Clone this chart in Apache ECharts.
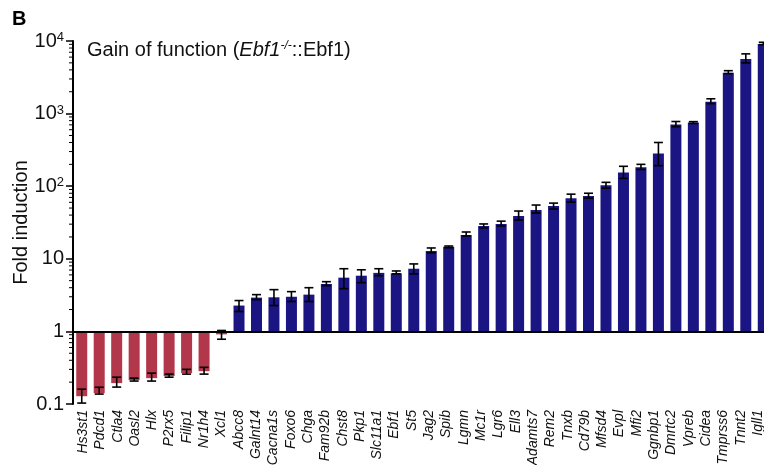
<!DOCTYPE html>
<html>
<head>
<meta charset="utf-8">
<script src="https://cdn.jsdelivr.net/npm/echarts@6/dist/echarts.min.js"></script>
<style>
  html, body { margin: 0; padding: 0; background: #fff; }
  #chart { width: 764px; height: 465px; }
</style>
</head>
<body>
<div id="chart"></div>
<script>
// Genes, ordered by fold induction
const genes = ['Hs3st1','Pdcd1','Ctla4','Oasl2','Hlx','P2rx5','Filip1','Nr1h4','Xcl1',
  'Abcc8','Galnt14','Cacna1s','Foxo6','Chga','Fam92b','Chst8','Pkp1','Slc11a1','Ebf1',
  'St5','Jag2','Spib','Lgmn','Mc1r','Lgr6','Ell3','Adamts7','Rem2','Tnxb','Cd79b',
  'Mfsd4','Evpl','Mfi2','Ggnbp1','Dmrtc2','Vpreb','Cidea','Tmprss6','Tnnt2','Igll1'];

// Mean fold induction
const foldInduction = [0.128, 0.141, 0.194, 0.213, 0.227, 0.242, 0.266, 0.283, 0.91,
  2.27, 2.92, 2.95, 3.0, 3.21, 4.5, 5.5, 5.85, 6.4, 6.3,
  7.3, 12.8, 14.6, 21.3, 28.3, 30.2, 38.8, 46.9, 53.2, 68.5, 73,
  103, 155, 182, 283, 706, 753, 1460, 3650, 5670, 9100];

// Error bar ends (lower / upper)
const errLow = [0.103, 0.137, 0.171, 0.207, 0.207, 0.234, 0.258, 0.258, 0.78,
  1.88, 2.74, 2.27, 2.58, 2.58, 4.27, 3.88, 4.69, 5.85, 6.2,
  6.2, 12.1, 14.2, 20.6, 26.6, 28.3, 34.2, 42.8, 48.4, 60.3, 68.5,
  94, 128, 170, 192, 660, 730, 1370, 3550, 5000, 8900];
const errHigh = [0.16, 0.17, 0.234, 0.227, 0.266, 0.258, 0.30, 0.32, 1.03,
  2.66, 3.21, 3.76, 3.53, 4.0, 4.84, 7.3, 7.06, 7.3, 6.8,
  8.5, 14.1, 15.0, 23.4, 30.2, 33.0, 45.5, 55, 58.5, 77.7, 80,
  113, 188, 200, 400, 778, 775, 1600, 3900, 6650, 9600];

// Log-axis ticks
const yTicks = [0.1, 1, 10, 100, 1000, 10000];

const FONT = 'Liberation Sans, Arial, Helvetica, sans-serif';
const BLUE = '#1b1583';
const RED = '#b3374b';

// minor tick positions 2..9 within each decade
const minorTicks = [];
for (let d = 0; d < yTicks.length - 1; d++) {
  for (let m = 2; m <= 9; m++) minorTicks.push([0, yTicks[d] * m]);
}

const chart = echarts.init(document.getElementById('chart'), null, { renderer: 'canvas' });

chart.setOption({
  animation: false,
  backgroundColor: '#fff',
  title: [
    {
      text: 'B', left: 7, top: 4,
      textStyle: { fontFamily: FONT, fontSize: 20, fontWeight: 'bold', color: '#000' }
    },
    {
      text: '{n|Gain of function (}{i|Ebf1}{s|-/-}{n|::Ebf1)}',
      left: 82, top: 35,
      textStyle: {
        fontFamily: FONT, color: '#000', fontWeight: 'normal',
        rich: {
          n: { fontFamily: FONT, fontSize: 20, fontWeight: 'normal', color: '#111' },
          i: { fontFamily: FONT, fontSize: 20, fontWeight: 'normal', fontStyle: 'italic', color: '#111' },
          s: { fontFamily: FONT, fontSize: 12, fontWeight: 'normal', fontStyle: 'italic', verticalAlign: 'top', color: '#111' }
        }
      }
    }
  ],
  grid: [
    // plotting area (extends a little past the right edge)
    { left: 73, right: -8, top: 41, bottom: 61, containLabel: false, outerBoundsMode: 'none' },
    // gene-name row, kept inside the page
    { left: 74.4, right: -2.7, top: 41, bottom: 61, containLabel: false, outerBoundsMode: 'none' }
  ],
  xAxis: [
    {
      gridIndex: 0,
      type: 'category',
      data: genes,
      axisLine: { show: false },
      axisTick: { show: false },
      axisLabel: { show: false }
    },
    {
      gridIndex: 1,
      type: 'category',
      data: genes,
      axisLine: { show: false },
      axisTick: { show: false },
      axisLabel: {
        rotate: 90, margin: 6, interval: 0,
        fontFamily: FONT, fontSize: 14, fontStyle: 'italic', color: '#111'
      }
    }
  ],
  yAxis: [
    {
      gridIndex: 0,
      type: 'log',
      logBase: 10,
      min: 0.1,
      max: 10000,
      interval: 1,
      name: 'Fold induction',
      nameLocation: 'middle',
      nameGap: 42,
      nameMoveOverlap: false,
      nameTextStyle: { fontFamily: FONT, fontSize: 20, color: '#111' },
      axisLine: { show: true, lineStyle: { color: '#000', width: 2 } },
      axisTick: { show: true, length: 7, lineStyle: { color: '#000', width: 1.5 } },
      splitLine: { show: false },
      axisLabel: {
        margin: 9,
        fontFamily: FONT, fontSize: 20, color: '#111',
        formatter: function (v) {
          const e = Math.round(Math.log10(v));
          if (e === -1) return '{b|0.1}';
          if (e === 0) return '{b|1}';
          if (e === 1) return '{b|10}';
          return '{b|10}{s|' + e + '}';
        },
        rich: {
          b: { fontFamily: FONT, fontSize: 20, color: '#111' },
          s: { fontFamily: FONT, fontSize: 13, color: '#111', verticalAlign: 'top' }
        }
      }
    },
    {
      gridIndex: 1,
      type: 'value',
      min: 0,
      max: 1,
      show: false
    }
  ],
  series: [
    {
      type: 'bar',
      xAxisIndex: 0,
      yAxisIndex: 0,
      data: foldInduction,
      barWidth: 11,
      itemStyle: {
        color: function (p) { return p.value < 1 ? RED : BLUE; }
      },
      markLine: {
        silent: true,
        symbol: ['none', 'none'],
        label: { show: false },
        lineStyle: { color: '#000', width: 2, type: 'solid' },
        data: [{ yAxis: 1 }]
      },
      z: 2
    },
    {
      // error bars
      type: 'custom',
      xAxisIndex: 0,
      yAxisIndex: 0,
      data: genes.map((g, i) => [i, errLow[i], errHigh[i]]),
      encode: { x: 0, y: [1, 2] },
      z: 3,
      renderItem: function (params, api) {
        const lo = api.coord([api.value(0), api.value(1)]);
        const hi = api.coord([api.value(0), api.value(2)]);
        const half = 4.5;
        const style = { stroke: '#000', lineWidth: 1.6 };
        return {
          type: 'group',
          children: [
            { type: 'line', shape: { x1: lo[0], y1: lo[1], x2: hi[0], y2: hi[1] }, style: style },
            { type: 'line', shape: { x1: lo[0] - half, y1: lo[1], x2: lo[0] + half, y2: lo[1] }, style: style },
            { type: 'line', shape: { x1: hi[0] - half, y1: hi[1], x2: hi[0] + half, y2: hi[1] }, style: style }
          ]
        };
      }
    },
    {
      // minor ticks on the log axis
      type: 'custom',
      xAxisIndex: 0,
      yAxisIndex: 0,
      data: minorTicks,
      clip: false,
      silent: true,
      z: 3,
      renderItem: function (params, api) {
        const y = api.coord([0, api.value(1)])[1];
        const x = params.coordSys.x;
        return {
          type: 'line',
          shape: { x1: x - 4, y1: y, x2: x, y2: y },
          style: { stroke: '#000', lineWidth: 1 }
        };
      }
    }
  ]
});
</script>
</body>
</html>
